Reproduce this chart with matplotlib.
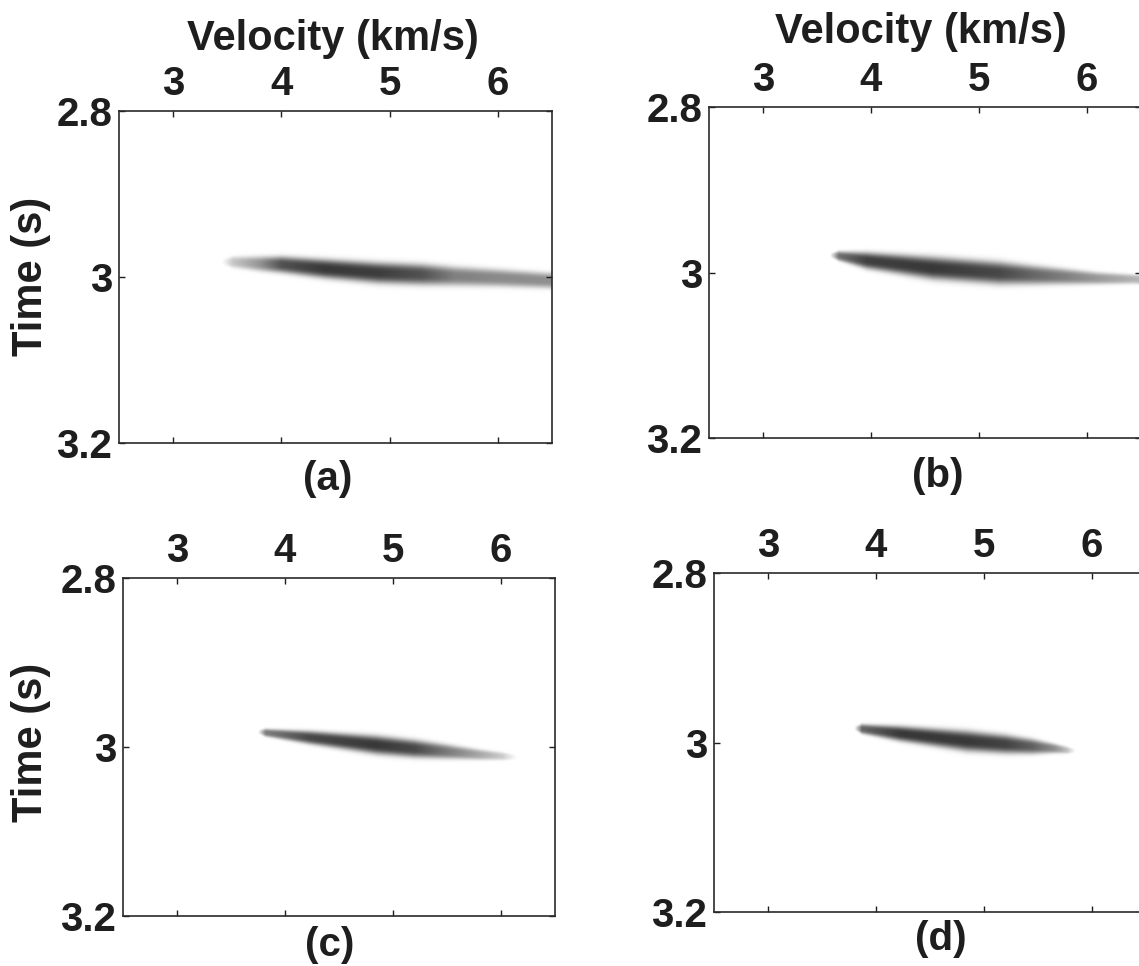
import numpy as np
import matplotlib
matplotlib.use("Agg")
import matplotlib.pyplot as plt
from matplotlib.colors import LinearSegmentedColormap

# Velocity axis (km/s) and time axis (s) of every panel
velRange = [2.5, 6.5]
timeRange = [2.8, 3.2]
xTicks = [3, 4, 5, 6]
yTicks = [2.8, 3.0, 3.2]
yTickLabels = ["2.8", "3", "3.2"]
panelNames = ["(a)", "(b)", "(c)", "(d)"]

# Streak: velocity nodes, centre time, thickness (s), darkness (0..1)
velA = [3.45, 3.55, 3.8, 4.0, 4.4, 4.9, 5.3, 5.6, 6.0, 6.44, 6.6]
timeA = [2.982, 2.982, 2.984, 2.985, 2.990, 2.995, 2.997, 2.999, 3.001, 3.004, 3.005]
thickA = [0.006, 0.013, 0.017, 0.019, 0.022, 0.024, 0.024, 0.022, 0.020, 0.018, 0.018]
darkA = [0.0, 0.22, 0.42, 0.68, 0.78, 0.76, 0.68, 0.50, 0.46, 0.44, 0.44]

velB = [3.62, 3.70, 3.96, 4.57, 5.19, 5.5, 5.81, 6.1, 6.43, 6.6]
timeB = [2.979, 2.980, 2.9855, 2.9946, 3.0006, 3.003, 3.005, 3.007, 3.008, 3.009]
thickB = [0.004, 0.011, 0.019, 0.026, 0.026, 0.022, 0.018, 0.014, 0.011, 0.011]
darkB = [0.0, 0.55, 0.75, 0.78, 0.72, 0.60, 0.50, 0.40, 0.30, 0.28]

velC = [3.75, 3.82, 4.23, 4.85, 5.2, 5.46, 5.8, 6.02, 6.15]
timeC = [2.982, 2.983, 2.9888, 2.9976, 3.002, 3.005, 3.009, 3.011, 3.012]
thickC = [0.004, 0.009, 0.015, 0.021, 0.020, 0.017, 0.012, 0.009, 0.005]
darkC = [0.0, 0.50, 0.72, 0.78, 0.72, 0.55, 0.35, 0.20, 0.0]

velD = [3.80, 3.87, 4.22, 4.84, 5.2, 5.45, 5.65, 5.77, 5.85]
timeD = [2.983, 2.984, 2.9894, 2.9982, 3.002, 3.0047, 3.007, 3.009, 3.010]
thickD = [0.004, 0.011, 0.017, 0.023, 0.021, 0.017, 0.011, 0.008, 0.004]
darkD = [0.0, 0.60, 0.78, 0.78, 0.74, 0.62, 0.45, 0.25, 0.0]

streaks = [(velA, timeA, thickA, darkA), (velB, timeB, thickB, darkB),
           (velC, timeC, thickC, darkC), (velD, timeD, thickD, darkD)]

# Axes boxes in pixels: left, right, top, bottom
W, H = 1139, 966
boxes = [(119, 552, 111, 443), (709, 1141, 107, 438),
         (123, 555, 578, 916), (714, 1146, 573, 912)]
letterPos = [(328, 479), (938, 476), (330, 945), (941, 939)]

plt.rcParams['font.family'] = ['Liberation Sans', 'DejaVu Sans']
plt.rcParams['font.weight'] = 'bold'
ink = '#1e1e1e'
cmap = LinearSegmentedColormap.from_list('semb', ['white', 'black'])

fig = plt.figure(figsize=(W/100, H/100), dpi=100)

vGrid = np.linspace(velRange[0], velRange[1], 500)
tGrid = np.linspace(timeRange[0], timeRange[1], 500)
V, T = np.meshgrid(vGrid, tGrid)

for i, (vel, tc, th, dk) in enumerate(streaks):
    l, r, t, b = boxes[i]
    ax = fig.add_axes([l/W, (H-b)/H, (r-l)/W, (b-t)/H])

    # build the panel image from the read-off streak
    centre = np.interp(V, vel, tc)
    half = np.maximum(np.interp(V, vel, th) / 2, 1e-4)
    dark = np.interp(V, vel, dk, left=0, right=dk[-1])
    img = dark * np.exp(-np.abs((T - centre) / half) ** 3)

    ax.imshow(img, cmap=cmap, vmin=0, vmax=1, aspect='auto', interpolation='bilinear',
              extent=[velRange[0], velRange[1], timeRange[1], timeRange[0]])
    ax.set_xlim(velRange)
    ax.set_ylim(timeRange[1], timeRange[0])

    ax.set_xticks(xTicks)
    ax.set_xticklabels([str(x) for x in xTicks])
    ax.set_yticks(yTicks)
    ax.set_yticklabels(yTickLabels)
    ax.tick_params(axis='x', direction='in', length=4, width=1, top=True, bottom=True,
                   labeltop=True, labelbottom=False, labelsize=29, pad=6, colors=ink)
    ax.tick_params(axis='y', direction='in', length=4, width=1, left=True, right=True,
                   labelsize=29, pad=5, colors=ink)
    for lab in ax.get_xticklabels() + ax.get_yticklabels():
        lab.set_fontweight('bold')
    for s in ax.spines.values():
        s.set_linewidth(1.2)
        s.set_color('#2a2a2a')

    lx, ly = letterPos[i]
    fig.text(lx/W, 1 - ly/H, panelNames[i], ha='center', va='center',
             fontsize=29, fontweight='bold', color=ink)

# axis titles only on the outer panels
fig.text(333/W, 1 - 50/H, "Velocity (km/s)", ha='center', va='baseline',
         fontsize=30, fontweight='bold', color=ink)
fig.text(921/W, 1 - 43/H, "Velocity (km/s)", ha='center', va='baseline',
         fontsize=30, fontweight='bold', color=ink)
fig.text(31/W, 1 - 276/H, "Time (s)", ha='center', va='center', rotation=90,
         fontsize=30, fontweight='bold', color=ink)
fig.text(31/W, 1 - 742/H, "Time (s)", ha='center', va='center', rotation=90,
         fontsize=30, fontweight='bold', color=ink)

fig.savefig('out.png', dpi=100, facecolor='white')
